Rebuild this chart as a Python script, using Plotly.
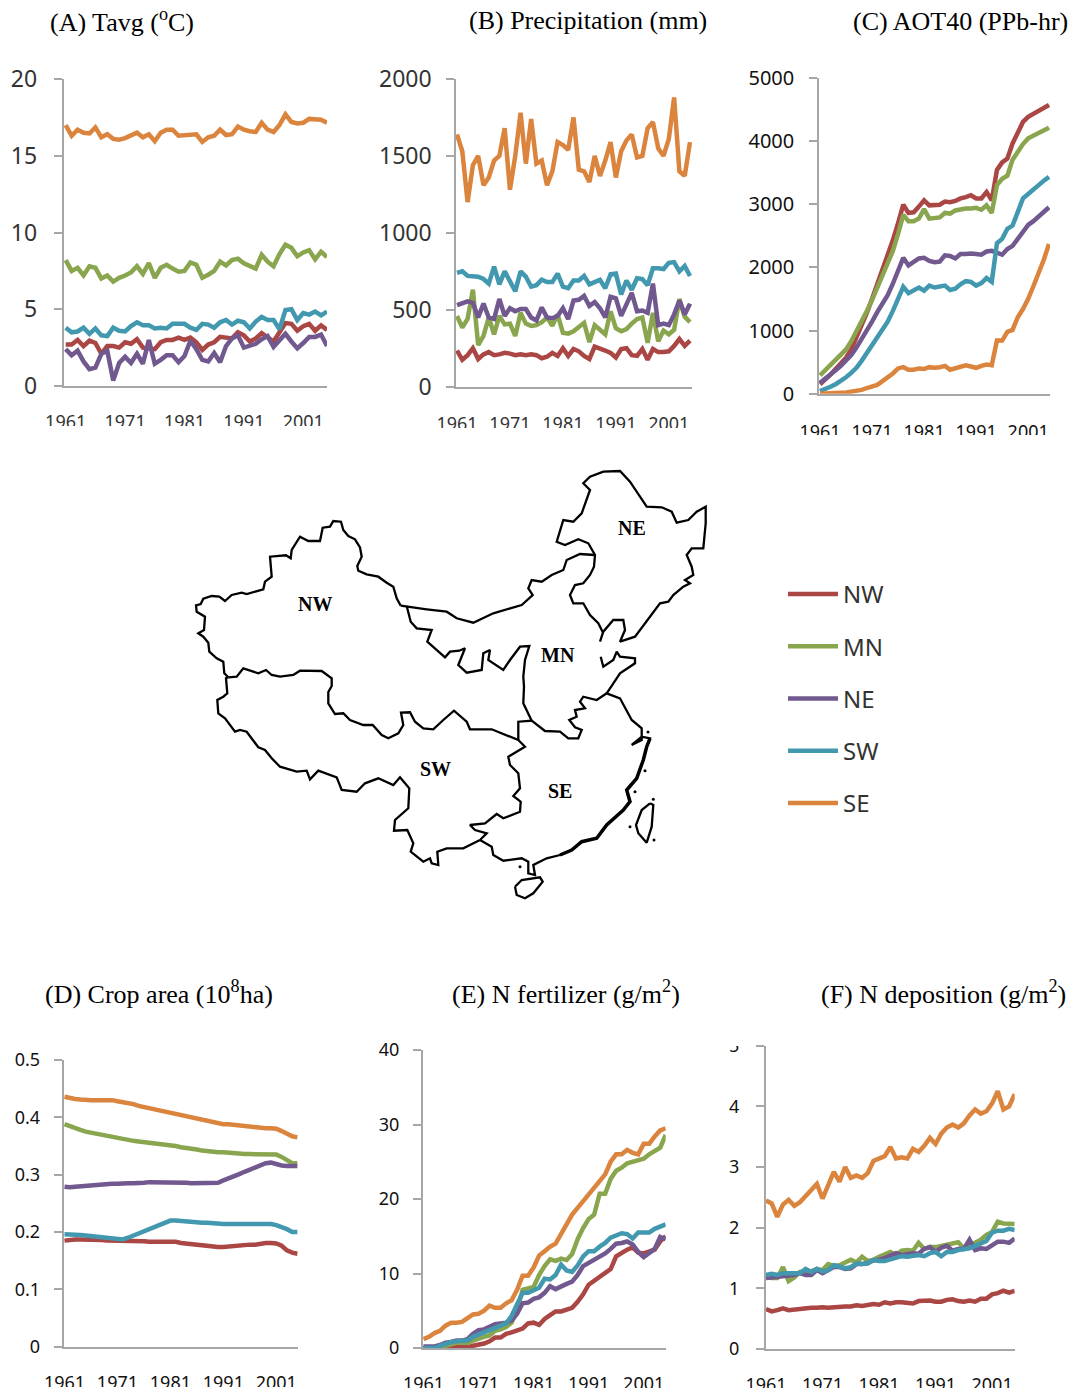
import plotly.graph_objects as go

WIDTH = 1074
HEIGHT = 1394

years = list(range(1961, 2006))
year_ticks = [1961, 1971, 1981, 1991, 2001]
regions = ['NW', 'MN', 'NE', 'SW', 'SE']
region_colors = ['#AA4643', '#89A54E', '#71588F', '#4198AF', '#DB843D']

# (A) Tavg
tavg_nw = [2.7,2.7,3.0,2.6,2.95,2.8,2.1,2.6,2.6,2.5,2.85,2.75,3.05,2.5,2.45,2.4,2.85,3.0,3.0,3.15,3.0,3.15,2.85,2.35,2.7,2.85,3.2,3.15,3.1,3.5,3.3,2.9,3.1,3.45,3.2,2.9,3.5,4.1,4.05,3.6,3.9,4.05,3.6,3.95,3.65]
tavg_mn = [8.2,7.5,7.7,7.2,7.8,7.7,7.0,7.2,6.8,7.05,7.2,7.4,7.8,7.3,8.0,7.05,7.7,7.9,7.65,7.45,7.5,8.05,7.9,7.05,7.25,7.5,8.1,7.85,8.2,8.3,8.0,7.85,7.65,8.55,8.1,7.8,8.6,9.2,9.0,8.45,8.7,8.85,8.25,8.75,8.4]
tavg_ne = [2.4,2.0,2.3,1.6,1.1,1.2,2.1,2.3,0.35,1.5,1.9,1.5,2.1,1.45,3.0,1.45,1.7,2.0,2.0,1.55,1.95,2.95,2.4,1.7,1.6,2.15,1.55,2.6,3.1,3.3,2.5,2.65,2.75,3.05,3.25,2.55,3.0,3.4,2.9,2.45,2.8,3.2,3.2,3.35,2.6]
tavg_sw = [3.8,3.5,3.55,3.8,3.4,3.75,3.3,3.25,3.8,3.6,3.55,3.9,4.15,3.95,3.95,3.75,3.8,3.75,4.05,4.05,4.05,3.8,3.65,4.05,4.0,3.8,4.15,4.3,4.0,4.25,4.15,3.75,4.2,4.5,4.3,4.3,3.7,4.95,5.0,4.3,4.75,4.65,4.85,4.6,4.85]
tavg_se = [17.0,16.3,16.7,16.5,16.45,16.85,16.2,16.4,16.1,16.05,16.15,16.3,16.5,16.2,16.4,15.95,16.5,16.7,16.7,16.3,16.35,16.4,16.4,15.9,16.2,16.3,16.7,16.35,16.4,16.9,16.7,16.6,16.55,17.15,16.7,16.55,17.0,17.7,17.2,17.1,17.15,17.4,17.35,17.35,17.15]

# (B) Precipitation
prec_nw = [235,175,205,250,180,210,225,205,210,220,215,205,210,205,210,205,185,195,220,200,250,200,245,230,200,180,260,250,235,220,190,245,250,205,200,245,175,245,225,225,230,265,310,265,300]
prec_mn = [460,385,440,630,270,330,450,340,460,405,410,330,480,410,395,400,420,450,395,470,350,345,360,385,415,290,400,370,340,490,380,360,375,410,440,450,285,480,295,365,340,370,570,455,420]
prec_ne = [530,540,555,545,450,540,450,440,570,460,510,490,505,505,450,430,515,450,445,460,510,440,560,565,590,525,550,510,450,585,575,460,530,610,490,495,480,670,400,410,400,470,560,470,540]
prec_sw = [740,750,720,715,715,700,670,780,665,750,690,620,750,715,650,660,695,680,680,735,650,640,690,690,720,665,680,695,640,730,735,600,690,630,705,700,660,770,770,765,805,810,750,785,720]
prec_se = [1640,1530,1200,1440,1500,1310,1360,1470,1500,1680,1280,1500,1780,1450,1740,1450,1470,1310,1400,1590,1570,1540,1750,1410,1400,1330,1500,1370,1470,1590,1360,1530,1600,1640,1490,1500,1680,1720,1550,1500,1610,1880,1400,1370,1590]

# (C) AOT40
aot_nw = [150,220,300,390,480,570,700,880,1080,1280,1500,1730,1960,2170,2430,2700,2990,2860,2870,2960,3060,2980,2980,2990,3040,3030,3050,3090,3110,3140,3090,3090,3190,3060,3540,3660,3720,3960,4130,4300,4380,4430,4490,4530,4570]
aot_mn = [290,370,450,540,620,700,830,980,1140,1310,1480,1680,1880,2100,2260,2530,2830,2730,2730,2770,2920,2770,2780,2790,2860,2850,2900,2920,2930,2930,2940,2910,2980,2860,3300,3400,3450,3700,3830,3950,4040,4080,4120,4170,4210]
aot_ne = [170,230,300,370,440,520,610,730,860,1000,1140,1290,1430,1560,1740,1950,2150,2030,2080,2140,2150,2100,2080,2090,2190,2180,2140,2210,2210,2220,2210,2200,2250,2260,2230,2200,2290,2340,2450,2570,2670,2730,2800,2880,2950]
aot_sw = [40,70,110,150,200,260,330,410,520,640,770,900,1030,1140,1310,1500,1690,1590,1640,1680,1630,1710,1680,1690,1710,1640,1660,1730,1780,1770,1710,1750,1830,1770,2380,2450,2610,2660,2900,3090,3160,3220,3300,3370,3430]
aot_se = [0,0,0,5,15,20,30,40,60,90,110,140,200,250,320,400,420,380,380,400,390,420,410,420,440,380,400,420,450,430,410,440,460,450,840,840,980,1010,1210,1340,1500,1700,1900,2120,2370]

# (D) Crop area
crop_nw = [.185,.187,.187,.187,.187,.187,.187,.186,.185,.185,.185,.185,.185,.185,.185,.184,.183,.183,.183,.183,.183,.183,.181,.180,.178,.177,.176,.175,.174,.174,.174,.175,.176,.176,.178,.178,.178,.180,.181,.181,.180,.176,.168,.164,.162]
crop_mn = [.388,.384,.381,.378,.375,.373,.372,.370,.368,.366,.364,.362,.361,.359,.358,.357,.356,.355,.354,.353,.352,.350,.348,.347,.345,.344,.342,.341,.339,.339,.339,.338,.337,.336,.336,.336,.336,.336,.336,.336,.335,.331,.325,.320,.320]
crop_ne = [.279,.278,.279,.280,.280,.281,.282,.282,.283,.284,.284,.285,.285,.285,.285,.286,.287,.287,.287,.287,.287,.287,.287,.286,.285,.285,.285,.285,.285,.286,.290,.293,.297,.301,.305,.309,.313,.317,.320,.321,.318,.316,.315,.315,.315]
crop_sw = [.196,.196,.196,.195,.194,.193,.193,.192,.191,.189,.188,.187,.190,.194,.198,.202,.206,.210,.214,.218,.220,.220,.219,.218,.218,.217,.216,.216,.215,.215,.214,.214,.214,.214,.214,.214,.214,.214,.214,.214,.212,.209,.205,.200,.200]
crop_se = [.436,.433,.432,.431,.430,.430,.430,.430,.430,.430,.428,.427,.425,.423,.420,.418,.415,.413,.411,.409,.407,.405,.403,.401,.399,.397,.395,.393,.391,.389,.388,.388,.387,.386,.384,.383,.383,.382,.381,.381,.380,.376,.371,.367,.365]

# (E) N fertilizer
fert_nw = [0,0,0,0,0,.2,.3,.2,.1,.3,.4,.6,.9,1.4,1.4,1.9,2.1,2.3,2.6,3.3,3.4,3.1,3.9,4.4,4.9,4.9,5.2,5.4,6.2,7.2,8.5,9.0,9.5,10.0,10.6,12.3,12.8,13.2,13.5,12.8,12.7,13.0,13.2,14.3,15.0]
fert_mn = [0,0,0,0,.3,.5,.7,.7,.7,1.0,1.3,1.5,1.7,2.3,2.5,2.8,3.4,5.0,7.8,8.0,8.2,9.8,11.0,11.9,11.7,12.0,11.8,12.6,14.6,16.1,17.3,17.9,20.7,20.7,22.7,23.8,24.2,24.8,25.0,25.1,25.4,26.0,26.5,26.9,28.6]
fert_ne = [.2,.2,.2,.4,.7,.8,1.0,1.0,1.2,1.9,2.4,2.5,2.9,3.2,3.3,3.4,3.7,4.6,6.0,6.1,6.6,6.8,7.4,8.3,7.9,8.3,8.6,8.9,9.8,11.0,11.4,11.9,12.3,12.7,13.3,14.0,14.1,14.3,13.9,12.9,12.2,12.7,13.3,14.9,14.6]
fert_sw = [0,0,0,.3,.6,.8,.9,.9,1.0,1.5,1.8,2.0,2.4,2.6,2.9,3.3,4.3,6.0,7.4,7.4,7.8,8.1,9.3,9.2,9.8,11.2,10.4,10.2,11.1,12.3,13.0,13.0,13.6,14.1,14.8,15.1,15.4,15.3,14.7,15.5,15.5,15.5,16.0,16.3,16.6]
fert_se = [1.2,1.5,2.0,2.3,3.0,3.4,3.4,3.5,4.0,4.5,4.6,5.0,5.7,5.4,5.4,6.0,6.4,7.8,9.7,9.7,10.8,12.4,13.0,13.6,14.0,15.3,16.4,17.9,18.8,19.7,20.6,21.5,22.3,23.3,25.0,26.0,26.0,26.6,26.2,26.0,27.4,27.4,28.4,29.2,29.5]

# (F) N deposition
depo_nw = [.66,.62,.64,.67,.64,.65,.67,.68,.68,.68,.69,.68,.69,.7,.7,.7,.72,.71,.73,.74,.73,.77,.75,.77,.77,.76,.75,.79,.8,.8,.78,.78,.81,.82,.79,.78,.8,.78,.83,.83,.90,.92,.96,.93,.96]
depo_mn = [1.2,1.17,1.17,1.35,1.12,1.18,1.27,1.28,1.28,1.32,1.3,1.4,1.37,1.38,1.42,1.47,1.43,1.52,1.45,1.47,1.52,1.57,1.6,1.55,1.62,1.63,1.62,1.75,1.65,1.68,1.68,1.7,1.72,1.74,1.76,1.66,1.7,1.75,1.8,1.88,1.93,2.1,2.07,2.07,2.06]
depo_ne = [1.17,1.18,1.2,1.2,1.22,1.22,1.25,1.22,1.22,1.3,1.25,1.3,1.35,1.35,1.32,1.33,1.4,1.4,1.42,1.46,1.47,1.5,1.55,1.58,1.55,1.57,1.58,1.57,1.65,1.68,1.6,1.67,1.7,1.62,1.65,1.65,1.8,1.63,1.66,1.65,1.7,1.77,1.77,1.75,1.82]
depo_sw = [1.22,1.24,1.22,1.25,1.25,1.25,1.25,1.32,1.27,1.32,1.28,1.3,1.38,1.36,1.33,1.35,1.41,1.4,1.41,1.47,1.45,1.45,1.48,1.5,1.53,1.52,1.53,1.55,1.53,1.58,1.6,1.53,1.6,1.6,1.63,1.65,1.66,1.7,1.75,1.78,1.92,1.95,1.95,1.98,1.96]
depo_se = [2.45,2.4,2.18,2.38,2.46,2.36,2.42,2.52,2.6,2.72,2.48,2.7,2.92,2.76,3.0,2.82,2.86,2.82,2.9,3.1,3.15,3.18,3.33,3.14,3.16,3.14,3.3,3.25,3.35,3.48,3.38,3.55,3.65,3.7,3.65,3.72,3.85,3.95,3.88,3.92,4.05,4.25,3.95,4.0,4.2]

# map outlines, in image pixels
nw_outer_x = [400.7,396.7,393.3,386.7,378.3,366.7,358.3,357.3,361.7,360,355,348.3,343.3,341,333.3,330,322.7,320,308.3,300,291.7,290.7,286,270,271.7,265,263.3,246.7,241.7,231.7,225,219.3,211.7,203.3,200.7,196,196.7,205,204,198.3,203.3,208.3,209.3,216.7,223.3,224.3,228.3]
nw_outer_y = [605.7,598.3,586.7,582.7,576.7,574.3,570.7,566,556.7,547.3,539.3,536,530,521.7,521,526.7,527.7,541,541,536.7,550,558.3,555.3,556.7,576.7,581.7,589.3,594,592.7,595,601,596.7,596,598.7,604,605.3,611.7,616.7,630,633.3,636.7,642.7,651.7,658.3,661.7,673.3,677.3]
nw_sw_x = [228.3,236.7,243.3,258.3,266,271.7,280,293.3,300,321.7,331.7,331.7,328.3,328.3,335,343.3,350,363.3,372.7,381.7,388.3,398.3,403.3,401,410,415,423.3,433.3,443.3,454,466.7,470,491.7,505,518.3]
nw_sw_y = [677.3,676.7,668.3,673.3,670,675,676.7,675,670.7,671,678.3,686,692,703.3,714,713.3,720,725,725,735,738.3,733.3,725,712.7,712.3,721.7,728.3,729.3,720,710.7,721.7,729.3,729.3,735,740]
nw_mn_x = [406.7,410.7,416.7,431.7,427.3,436.7,445,450,459.3,465,458.3,466.7,481.7,483.3,490,488.3,503.3,510,520,529.3,525,523.3,524,523.3,530,531.7,518.3,518.3]
nw_mn_y = [606,621.7,628.3,630,641.7,650,657.3,651.7,650.7,648.3,665,672.7,670,653.3,650,660,670,660,646.7,646,660,676.7,686.7,703.3,716.7,720.7,721.7,740]
sw_se_x = [518.3,525,508.3,510,518.3,520,513.3,520.7,520,503.3,496.7,485,470,475,486.7,480]
sw_se_y = [740,746.7,756.7,765,773.3,788.3,796,801.7,811.7,818.3,814,823.3,825,830,833.3,840]
sw_outer_x = [480,463.3,456.7,446.7,437.3,438.3,431.7,430,423.3,416.7,410.7,413.3,407.3,394,395,408.3,409.3,400,393.3,378.3,365,356.7,341.7,336.7,318.3,310,306.7,296.7,285,280,271.7,265,258.3,246.7,240,235,225,218.3,217.3,223.3,227.3,226,228.3]
sw_outer_y = [840,848.3,848.3,848.3,851.7,865,863.3,858.3,861.7,856.7,851.7,843.3,830,830.7,820,808.3,788.3,777.3,785,778.3,783.3,791.7,790,777.3,770.7,779.3,770.7,771.7,768.3,766.7,758.3,750,747.3,731.7,730,731.7,718.3,713.3,700,696.7,693.3,678.3,677.3]
se_coast_x = [480,491.7,493.3,503.3,521.7,528.3,528.3,535,533.3,546.7,560,571.7,581.7,596.7,606.7,623.3,630,626.7,636.7,643.3,646.7,650,641.7,631.7,641.7,641.7,631.7,620,606.7]
se_coast_y = [840,846.7,855,860.7,858.3,861.7,873.3,875,865,858.3,855,850,841.7,838.3,825,810,801.7,790,778.3,760,746.7,738.3,736.7,745,740,728.3,720,698.3,693.3]
mn_se_x = [606.7,596.7,583.3,580,585,575,576.7,569.3,575,581.7,578.3,568.3,560,545,531.7]
mn_se_y = [693.3,700,696.7,701.7,708.3,710,716.7,720,727.3,730,738.3,738.3,731.7,731,720.7]
shandong_x = [606.7,613.3,620,635,635,620,616.7,613.3,603.3,600.7]
shandong_y = [693.3,683.3,673.3,663.3,658.3,656.7,651.7,660,666.7,656.7]
ne_outer_x = [600,603.3,613.3,623.3,625,620,635,640,660,668.3,673.3,683.3,690,685,693.3,691.7,686.7,691.7,703.3,705.7,705.7,696.7,688.3,676.7,671.7,661.7,646.7,640,630,620,603.3,590,583.3,590,585,581.7,573.3,563.3,556.7,565,578.3,588.3,595,594,590,583.3,575,570,573.3,583.3,590,598.3,603.3]
ne_outer_y = [641.7,631.7,620,620,630,641.7,636.7,630,603.3,601.7,595,586.7,583.3,580,575,566.7,555,548.3,548.3,523.3,506.7,511.7,520,522.7,511.7,507.3,506.7,496.7,481.7,471,471.7,476.7,483.3,490,503.3,513.3,521.7,520,541.7,545,539.3,543.3,555,566.7,575,583.3,585,595,603.3,603.3,615,623.3,633.3]
mn_north_x = [595,580,566.7,563.3,551.7,541.7,531.7,528.3,532.7,521.7,493.3,473.3,456.7,446.7,426.7,400.7]
mn_north_y = [555,554,560,570,575,581.7,580,588.3,595,605,613.3,622.7,618.3,611.7,609.3,605.7]
hainan_x = [515,521.7,540,542.7,533.3,525,516.7,515]
hainan_y = [886.7,880,877.3,881.7,893.3,898.3,895,886.7]
taiwan_x = [650,653.3,651.7,646.7,638.3,636,641.7,650]
taiwan_y = [803.3,805,826.7,842.7,833.3,825,810,803.3]
coast_thick_x = [650,646.7,643.3,636.7,626.7,630,623.3,606.7,596.7,581.7,571.7,560]
coast_thick_y = [738.3,746.7,760,778.3,790,801.7,810,825,838.3,841.7,850,855]
islet_x = [653.3,654,630,645,635,520,648]
islet_y = [799.3,840,826.7,770.7,791.7,866.7,732]
map_labels = ['NW', 'NE', 'MN', 'SW', 'SE']
map_label_x = [315, 632, 558, 435, 560]
map_label_y = [604, 528, 655, 769, 791]

AXIS_GRAY = '#A6A6A6'
SANS = 'Noto Sans'
SERIF = 'Liberation Serif'

# pixel boxes of the six small charts, first/last are where 1961 and 2005 sit
panels = [
    dict(data=[tavg_nw, tavg_mn, tavg_ne, tavg_sw, tavg_se], left=63.5, right=327, top=79, bottom=386, first=65.7, last=327,
         ymax=20, yticks=[0,5,10,15,20], ytext=None, size=23, xsize=18, ystand=12, xstand=19, color='#333333',
         title='(A) Tavg (<sup>o</sup>C)', tx=48, ty=21, cut=426),
    dict(data=[prec_nw, prec_mn, prec_ne, prec_sw, prec_se], left=456, right=692, top=79, bottom=386.7, first=457, last=690,
         ymax=2000, yticks=[0,500,1000,1500,2000], ytext=None, size=23, xsize=18, ystand=10, xstand=20, color='#333333',
         title='(B) Precipitation (mm)', tx=467, ty=21, cut=428),
    dict(data=[aot_nw, aot_mn, aot_ne, aot_sw, aot_se], left=819, right=1050, top=77.7, bottom=393.7, first=820, last=1049,
         ymax=5000, yticks=[0,1000,2000,3000,4000,5000], ytext=None, size=20, xsize=18, ystand=11, xstand=21, color='#111111',
         title='(C) AOT40 (PPb-hr)', tx=851, ty=22, cut=435),
    dict(data=[crop_nw, crop_mn, crop_ne, crop_sw, crop_se], left=63.5, right=297.7, top=1060, bottom=1346.7, first=64.5, last=297.5,
         ymax=0.5, yticks=[0,.1,.2,.3,.4,.5], ytext=['0','0.1','0.2','0.3','0.4','0.5'], size=18, xsize=18, ystand=10, xstand=19, color='#111111',
         title='(D) Crop area (10<sup>8</sup>ha)', tx=43, ty=992, cut=1387),
    dict(data=[fert_nw, fert_mn, fert_ne, fert_sw, fert_se], left=422.7, right=665.7, top=1050, bottom=1348, first=423.5, last=665.7,
         ymax=40, yticks=[0,10,20,30,40], ytext=None, size=18, xsize=18, ystand=10, xstand=19, color='#111111',
         title='(E) N fertilizer (g/m<sup>2</sup>)', tx=450, ty=992, cut=1388),
    dict(data=[depo_nw, depo_mn, depo_ne, depo_sw, depo_se], left=765.7, right=1014.7, top=1045.7, bottom=1349, first=766, last=1014.7,
         ymax=5, yticks=[0,1,2,3,4,5], ytext=None, size=18, xsize=18, ystand=13, xstand=19, color='#111111',
         title='(F) N deposition (g/m<sup>2</sup>)', tx=819, ty=992, cut=1388),
]


def add_panel(fig, layout, shapes, annotations, p, n):

    xname = 'x' + str(n)
    yname = 'y' + str(n)

    # years per pixel from where the first and last points sit
    px_per_year = (p['last'] - p['first']) / (years[-1] - years[0])
    x_low = years[0] - (p['first'] - p['left']) / px_per_year
    x_high = years[-1] + (p['right'] - p['last']) / px_per_year

    for i in range(len(regions)):
        fig.add_trace(go.Scatter(x=years, y=p['data'][i], mode='lines', name=regions[i], legendgroup=regions[i],
                                 showlegend=(n == 1), cliponaxis=False, hoverinfo='skip',
                                 line=dict(color=region_colors[i], width=4.5),
                                 xaxis=xname, yaxis=yname))

    layout['xaxis' + str(n)] = dict(domain=[p['left'] / WIDTH, p['right'] / WIDTH], range=[x_low, x_high], anchor=yname,
                                    tickmode='array', tickvals=year_ticks, ticks='', showgrid=False, zeroline=False,
                                    showline=True, linecolor=AXIS_GRAY, linewidth=1.5, tickangle=0,
                                    ticklabelstandoff=p['xstand'], tickfont=dict(family=SANS, size=p['xsize'], color=p['color']))
    ydict = dict(domain=[1 - p['bottom'] / HEIGHT, 1 - p['top'] / HEIGHT], range=[0, p['ymax']], anchor=xname,
                 tickmode='array', tickvals=p['yticks'], ticks='outside', ticklen=8, tickwidth=1.5, tickcolor=AXIS_GRAY,
                 showgrid=False, zeroline=False, showline=True, linecolor=AXIS_GRAY, linewidth=1.5,
                 ticklabelstandoff=p['ystand'], tickfont=dict(family=SANS, size=p['size'], color=p['color']))
    if p['ytext']:
        ydict['ticktext'] = p['ytext']
    layout['yaxis' + str(n)] = ydict

    annotations.append(dict(text=p['title'], xref='paper', yref='paper', x=p['tx'] / WIDTH, y=1 - p['ty'] / HEIGHT,
                            xanchor='left', yanchor='middle', showarrow=False, align='left',
                            font=dict(family=SERIF, size=26, color='#000000')))

    # the year labels are cut off at the bottom in the original
    shapes.append(dict(type='rect', xref='paper', yref='paper', layer='above', line_width=0, fillcolor='white',
                       x0=(p['left'] - 30) / WIDTH, x1=(p['right'] + 8) / WIDTH,
                       y0=1 - (p['cut'] + 10) / HEIGHT, y1=1 - p['cut'] / HEIGHT))


fig = go.Figure()
layout = {}
shapes = []
annotations = []

for n, p in enumerate(panels, start=1):
    add_panel(fig, layout, shapes, annotations, p, n)

# top of the "5" in panel F is cut off too
shapes.append(dict(type='rect', xref='paper', yref='paper', layer='above', line_width=0, fillcolor='white',
                   x0=722 / WIDTH, x1=756 / WIDTH, y0=1 - 1046 / HEIGHT, y1=1 - 1030 / HEIGHT))

# map, on one overlay axis that covers the whole image
map_lines = [
    (nw_outer_x, nw_outer_y), (nw_sw_x, nw_sw_y), (nw_mn_x, nw_mn_y), (sw_se_x, sw_se_y), (sw_outer_x, sw_outer_y),
    (se_coast_x, se_coast_y), (mn_se_x, mn_se_y), (shandong_x, shandong_y), (ne_outer_x, ne_outer_y),
    (mn_north_x, mn_north_y), (hainan_x, hainan_y), (taiwan_x, taiwan_y),
]
for mx, my in map_lines:
    fig.add_trace(go.Scatter(x=mx, y=my, mode='lines', showlegend=False, hoverinfo='skip',
                             line=dict(color='black', width=2.3), xaxis='x7', yaxis='y7'))
fig.add_trace(go.Scatter(x=coast_thick_x, y=coast_thick_y, mode='lines', showlegend=False, hoverinfo='skip',
                         line=dict(color='black', width=3.5), xaxis='x7', yaxis='y7'))
fig.add_trace(go.Scatter(x=islet_x, y=islet_y, mode='markers', showlegend=False, hoverinfo='skip',
                         marker=dict(color='black', size=3), xaxis='x7', yaxis='y7'))

layout['xaxis7'] = dict(domain=[0, 1], range=[0, WIDTH], visible=False, anchor='y7')
layout['yaxis7'] = dict(domain=[0, 1], range=[HEIGHT, 0], visible=False, anchor='x7')

for i in range(len(map_labels)):
    annotations.append(dict(text='<b>' + map_labels[i] + '</b>', xref='x7', yref='y7', x=map_label_x[i], y=map_label_y[i],
                            showarrow=False, font=dict(family=SERIF, size=20, color='black')))

fig.update_layout(
    width=WIDTH,
    height=HEIGHT,
    margin=dict(l=0, r=0, t=0, b=0, pad=0, autoexpand=False),
    paper_bgcolor='white',
    plot_bgcolor='rgba(0,0,0,0)',
    shapes=shapes,
    annotations=annotations,
    legend=dict(x=783 / WIDTH, y=1 - 572 / HEIGHT, xanchor='left', yanchor='top', bgcolor='rgba(0,0,0,0)',
                itemwidth=50, tracegroupgap=18, traceorder='grouped',
                font=dict(family=SANS, size=24, color='#333333')),
    **layout
)

fig.write_html("out.html", config=dict(displayModeBar=False),
               post_script="document.body.style.margin='0';document.body.style.overflow='hidden';")
